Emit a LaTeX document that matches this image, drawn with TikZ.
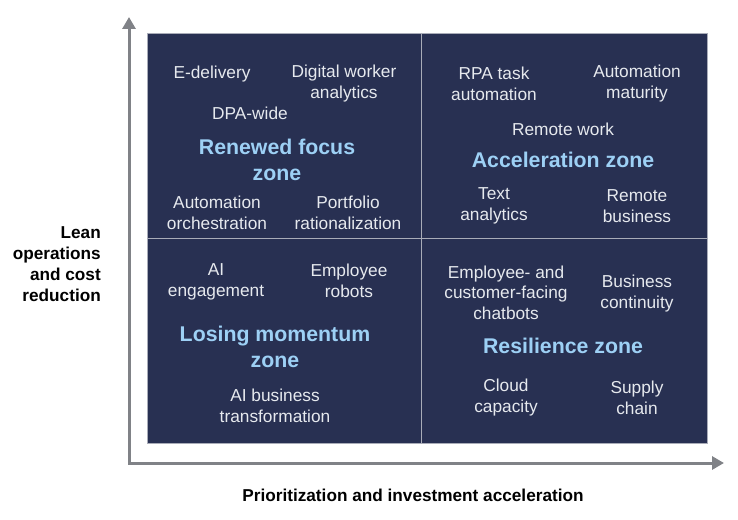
\documentclass[tikz,border=0pt]{standalone}
\usepackage{fontspec}
\setmainfont{Liberation Sans}
\usetikzlibrary{arrows.meta}
\definecolor{navy}{HTML}{283052}
\definecolor{itemtxt}{HTML}{E6E9EE}
\definecolor{zonetxt}{HTML}{9DD0F5}
\definecolor{axisgray}{HTML}{808287}
\definecolor{gridgray}{HTML}{A9ACB8}
\begin{document}
\begin{tikzpicture}[x=1pt,y=-1pt,
  item/.style={text=itemtxt,align=center,inner sep=0pt,yshift=-1.8pt,font=\fontsize{17.3}{20.8}\selectfont},
  zone/.style={text=zonetxt,align=center,inner sep=0pt,yshift=-1.5pt,font=\fontsize{21.3}{26}\selectfont\bfseries},
  axislabel/.style={text=black,inner sep=0pt,font=\fontsize{17.2}{21}\selectfont\bfseries},
  axisline/.style={draw=axisgray,line width=3pt}]
\useasboundingbox (0,0) rectangle (738,519);
% matrix box
\node[draw=gridgray,line width=0.8pt,fill=navy,minimum width=560pt,minimum height=410pt,inner sep=0pt,anchor=north west] (box) at (147,33) {};
\coordinate (vtop) at (421,33);
\coordinate (vbot) at (421,443);
\draw[gridgray,line width=0.8pt] (vtop) -- (vbot);
\draw[gridgray,line width=0.8pt] (box.west) -- (box.east);
% axes
\coordinate (origin) at (129,463);
\coordinate (ytip) at (129,17);
\coordinate (xtip) at (724,463);
\draw[axisline,{Triangle[length=12pt,width=13pt]}-{Triangle[length=12pt,width=13pt]}] (ytip) -- (origin) -- (xtip);
% axis labels
\node[axislabel,align=right,anchor=east] (ylab) at (101,264) {Lean\\operations\\and cost\\reduction};
\node[axislabel] (xlab) at (413,495) {Prioritization and investment acceleration};
% top-left
\node[item] (edel) at (212,72) {E-delivery};
\node[item] (dwa) at (344,82) {Digital worker\\analytics};
\node[item] (dpa) at (250,112) {DPA-wide};
\node[zone] (renew) at (277,158) {Renewed focus\\zone};
\node[item] (orch) at (217,211) {Automation\\orchestration};
\node[item] (port) at (348,211) {Portfolio\\rationalization};
% top-right
\node[item] (rpa) at (494,82) {RPA task\\automation};
\node[item] (mat) at (637,82) {Automation\\maturity};
\node[item] (rw) at (563,128) {Remote work};
\node[zone] (accel) at (563,158) {Acceleration zone};
\node[item] (text) at (494,204) {Text\\analytics};
\node[item] (rb) at (637,204) {Remote\\business};
% bottom-left
\node[item] (ai) at (216,280) {AI\\engagement};
\node[item] (emp) at (349,279) {Employee\\robots};
\node[zone] (lose) at (275,345) {Losing momentum\\zone};
\node[item] (aib) at (275,404) {AI business\\transformation};
% bottom-right
\node[item] (chat) at (506,291) {Employee- and\\customer-facing\\chatbots};
\node[item] (bc) at (637,292) {Business\\continuity};
\node[zone] (res) at (563,344) {Resilience zone};
\node[item] (cloud) at (506,396) {Cloud\\capacity};
\node[item] (supply) at (637,396) {Supply\\chain};
\end{tikzpicture}
\end{document}
